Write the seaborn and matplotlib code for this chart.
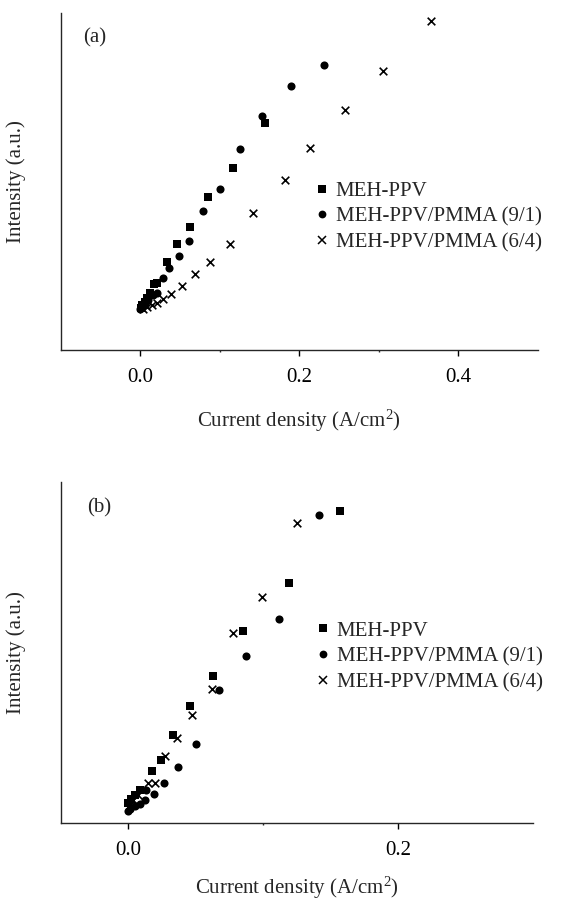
import numpy as np
import pandas as pd
import matplotlib
matplotlib.use("Agg")
import matplotlib.pyplot as plt
import seaborn as sns
from matplotlib.lines import Line2D

# ---------------- data (intensity in arbitrary units) ----------------
series_names = ["MEH-PPV", "MEH-PPV/PMMA (9/1)", "MEH-PPV/PMMA (6/4)"]

# panel (a)
a_meh_x = [0.157, 0.1165, 0.086, 0.063, 0.046, 0.034, 0.022, 0.018, 0.013, 0.009, 0.006, 0.003, 0.001]
a_meh_y = [0.673, 0.539, 0.453, 0.366, 0.315, 0.262, 0.200, 0.196, 0.168, 0.155, 0.143, 0.134, 0.124]
a_91_x = [0.231, 0.190, 0.154, 0.126, 0.100, 0.079, 0.062, 0.0485, 0.037, 0.029, 0.021, 0.016, 0.0105, 0.006, 0.0025, 0.0]
a_91_y = [0.846, 0.784, 0.694, 0.595, 0.477, 0.413, 0.323, 0.279, 0.242, 0.215, 0.168, 0.163, 0.148, 0.137, 0.127, 0.121]
a_64_x = [0.366, 0.306, 0.258, 0.214, 0.183, 0.142, 0.113, 0.088, 0.069, 0.053, 0.039, 0.029, 0.021, 0.015, 0.009, 0.004]
a_64_y = [0.977, 0.829, 0.711, 0.599, 0.503, 0.407, 0.315, 0.262, 0.226, 0.191, 0.166, 0.150, 0.140, 0.134, 0.127, 0.121]

# panel (b)
b_meh_x = [0.157, 0.119, 0.085, 0.0625, 0.0457, 0.0333, 0.0242, 0.0178, 0.0086, 0.005, 0.002, 0.0]
b_meh_y = [0.916, 0.705, 0.564, 0.432, 0.344, 0.258, 0.185, 0.152, 0.097, 0.082, 0.069, 0.058]
b_91_x = [0.1415, 0.1116, 0.087, 0.0674, 0.0506, 0.037, 0.0264, 0.0193, 0.0131, 0.0123, 0.0086, 0.005, 0.0017, 0.0]
b_91_y = [0.903, 0.597, 0.490, 0.390, 0.231, 0.165, 0.118, 0.084, 0.097, 0.067, 0.055, 0.050, 0.040, 0.036]
b_64_x = [0.125, 0.099, 0.078, 0.062, 0.047, 0.036, 0.027, 0.0198, 0.0148, 0.0074, 0.0037, 0.0012]
b_64_y = [0.879, 0.664, 0.558, 0.392, 0.317, 0.248, 0.196, 0.118, 0.118, 0.082, 0.067, 0.053]

a_xticks = [0.0, 0.2, 0.4]
a_xtick_labels = ["0.0", "0.2", "0.4"]
b_xticks = [0.0, 0.2]
b_xtick_labels = ["0.0", "0.2"]
xlabel_text = "Current density (A/cm$^{2}$)"
ylabel_text = "Intensity (a.u.)"


def frame(xs, ys, panel):
    rows = []
    for name, x, y in zip(series_names, xs, ys):
        for xi, yi in zip(x, y):
            rows.append({"panel": panel, "series": name, "x": xi, "y": yi})
    return pd.DataFrame(rows)


df_a = frame([a_meh_x, a_91_x, a_64_x], [a_meh_y, a_91_y, a_64_y], "a")
df_b = frame([b_meh_x, b_91_x, b_64_x], [b_meh_y, b_91_y, b_64_y], "b")

# ---------------- style ----------------
sns.set_style("ticks")
plt.rcParams["font.family"] = ["Liberation Serif", "DejaVu Serif"]
plt.rcParams["mathtext.fontset"] = "custom"
plt.rcParams["mathtext.rm"] = "Liberation Serif"
plt.rcParams["mathtext.it"] = "Liberation Serif:italic"
plt.rcParams["axes.linewidth"] = 1.0

marker_map = {"MEH-PPV": "s", "MEH-PPV/PMMA (9/1)": "o", "MEH-PPV/PMMA (6/4)": "x"}
size_map = {"s": 30, "o": 34, "x": 30}

fig = plt.figure(figsize=(5.62, 9.0), dpi=100)
W, H = 562.0, 900.0


def add_axes_px(left, right, top, bottom):
    return fig.add_axes([left / W, 1 - bottom / H, (right - left) / W, (bottom - top) / H])


ax_a = add_axes_px(60.5, 537.5, 13, 350)
ax_b = add_axes_px(60.7, 533.0, 482, 823)

FS = 15


def draw(ax, df, xlim, xticks, xticklabels, minor, tag, tagpos, leg_anchor):
    for name in series_names:
        sub = df[df["series"] == name]
        m = marker_map[name]
        kw = dict(color="black", edgecolor="black", linewidth=0) if m != "x" else dict(color="black", linewidth=1.2)
        sns.scatterplot(data=sub, x="x", y="y", marker=m, s=size_map[m], ax=ax, legend=False, **kw)
    ax.set_xlim(*xlim)
    ax.set_ylim(0, 1)
    ax.set_xticks(xticks)
    ax.set_xticklabels(xticklabels, fontsize=FS)
    ax.set_xticks(minor, minor=True)
    ax.set_yticks([])
    ax.tick_params(axis="x", which="major", direction="out", length=4.3, width=1.0, pad=9, colors="black")
    ax.tick_params(axis="x", which="minor", direction="out", length=1.6, width=1.0)
    sns.despine(ax=ax)
    ax.set_xlabel(xlabel_text, fontsize=FS)
    ax.set_ylabel(ylabel_text, fontsize=FS)
    ax.text(tagpos[0], tagpos[1], tag, transform=ax.transAxes, fontsize=FS, ha="left", va="center")
    handles = [
        Line2D([], [], linestyle="none", marker="s", markersize=5.2, color="black", markeredgewidth=0),
        Line2D([], [], linestyle="none", marker="o", markersize=5.6, color="black", markeredgewidth=0),
        Line2D([], [], linestyle="none", marker="x", markersize=5.2, color="black", markeredgewidth=1.1),
    ]
    ax.legend(handles, series_names, loc="center left", bbox_to_anchor=leg_anchor, frameon=False,
              fontsize=FS, borderpad=0, handlelength=0.8, handletextpad=0.25, labelspacing=0.3,
              borderaxespad=0)


draw(ax_a, df_a, (-0.1, 0.5), a_xticks, a_xtick_labels, [0.1, 0.3], "(a)", (0.047, 0.926), (0.531, 0.395))
draw(ax_b, df_b, (-0.05, 0.3), b_xticks, b_xtick_labels, [0.1], "(b)", (0.056, 0.924), (0.538, 0.488))

ax_a.xaxis.set_label_coords(0.5, -0.172)
ax_b.xaxis.set_label_coords(0.5, -0.152)
ax_a.yaxis.set_label_coords((26 - 60.5) / 477, 0.5)
ax_b.yaxis.set_label_coords((26 - 60.7) / 472, 0.5)

fig.savefig("out.png", dpi=100, facecolor="white")
